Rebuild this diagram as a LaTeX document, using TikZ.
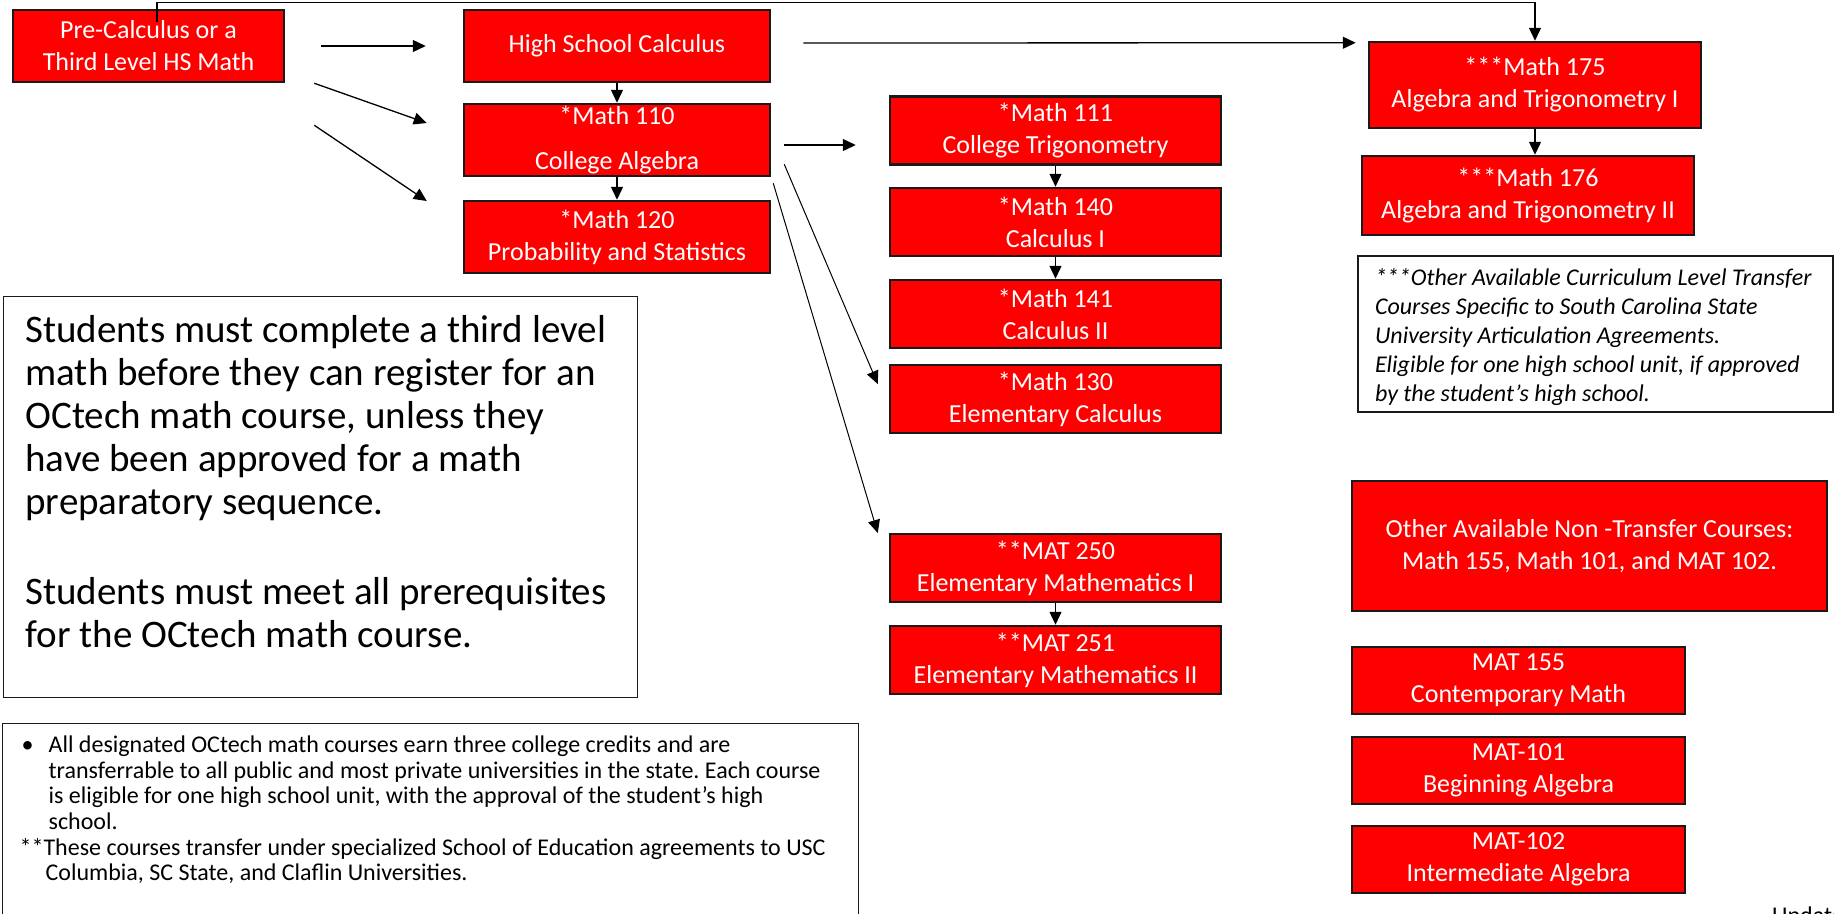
\documentclass[tikz,border=0pt]{standalone}
\usepackage{fontspec}
\setmainfont{Carlito}
\usetikzlibrary{arrows.meta,positioning}
\definecolor{boxred}{HTML}{FF0000}
\definecolor{boxline}{HTML}{1A1A1A}
\frenchspacing

\begin{document}
\begin{tikzpicture}[x=1pt,y=-1pt,
   course/.style={draw=boxline,line width=2.5pt,fill=boxred,text=white,inner sep=0pt,
     align=center,font=\fontsize{26}{32}\selectfont,minimum width=331pt,minimum height=68pt},
   note/.style={draw=boxline,fill=white,inner sep=0pt,anchor=north west},
   arr/.style={-{Triangle[length=13pt,width=12pt]},line width=1.3pt}]
  \useasboundingbox (0,0) rectangle (1834,913);
  \clip (0,0) rectangle (1834,913);

  % entry level and first column
  \node[course,minimum width=271pt,minimum height=72pt] (pre) at (148.5,46) {Pre-Calculus or a\\Third Level HS Math};
  \node[course,minimum width=306pt,minimum height=72pt] (hsc) at (617,46) {High School Calculus};
  \node[course,minimum width=306pt,minimum height=72pt,below=19.5pt of hsc] (m110) {*Math 110\\[13pt]College Algebra};
  \node[course,minimum width=306pt,minimum height=72pt,below=22.5pt of m110] (m120) {*Math 120\\Probability and Statistics};

  % second column
  \node[course] (m111) at (1055.5,130.5) {*Math 111\\College Trigonometry};
  \node[course,below=21pt of m111] (m140) {*Math 140\\Calculus I};
  \node[course,below=21.5pt of m140] (m141) {*Math 141\\Calculus II};
  \node[course,below=14.5pt of m141] (m130) {*Math 130\\Elementary Calculus};
  \node[course] (mat250) at (1055.5,568) {**MAT 250\\Elementary Mathematics I};
  \node[course,below=21.5pt of mat250] (mat251) {**MAT 251\\Elementary Mathematics II};

  % third column
  \node[course,minimum width=332pt,minimum height=86pt] (m175) at (1535,85) {***Math 175\\Algebra and Trigonometry I};
  \node[course,minimum width=332pt,minimum height=79pt] (m176) at (1528,195.5) {***Math 176\\Algebra and Trigonometry II};
  \node[note,line width=2pt] (xfer) at (1357,255) {\parbox[t][156pt][t]{475pt}{\leftskip=17pt
     \fontsize{24}{29}\selectfont\itshape\rule{0pt}{29pt}***Other Available Curriculum Level Transfer\\
     Courses Specific to South Carolina State\\
     University Articulation Agreements.\\
     Eligible for one high school unit, if approved\\
     by the student’s high school.}};
  \node[course,minimum width=475pt,minimum height=130pt] (other) at (1589.5,546) {Other Available Non -Transfer Courses:\\Math 155, Math 101, and MAT 102.};
  \node[course,minimum width=333pt,minimum height=67pt] (mat155) at (1518.5,680.5) {MAT 155\\Contemporary Math};
  \node[course,minimum width=333pt,minimum height=67pt,below=20.5pt of mat155] (mat101) {MAT-101\\Beginning Algebra};
  \node[course,minimum width=333pt,minimum height=67pt,below=19.5pt of mat101] (mat102) {MAT-102\\Intermediate Algebra};

  % text boxes on the left
  \node[note,line width=1pt] (rules) at (3,296) {\parbox[t][401pt][t]{634pt}{\leftskip=22pt
     \fontsize{39}{43}\selectfont\rule{0pt}{46pt}Students must complete a third level\\
     math before they can register for an\\
     OCtech math course, unless they\\
     have been approved for a math\\
     preparatory sequence.\\[47pt]
     Students must meet all prerequisites\\
     for the OCtech math course.}};
  \node[note,line width=1.3pt] (fine) at (2,723) {\parbox[t][230pt][t]{856pt}{\leftskip=17pt
     \fontsize{24}{25.6}\selectfont\rule{0pt}{29pt}\makebox[29pt][l]{\hspace{2pt}•}All designated OCtech math courses earn three college credits and are\\
     \hspace*{29pt}transferrable to all public and most private universities in the state. Each course\\
     \hspace*{29pt}is eligible for one high school unit, with the approval of the student’s high\\
     \hspace*{29pt}school.\\
     {}**These courses transfer under specialized School of Education agreements to USC\\
     \hspace*{26pt}Columbia, SC State, and Claflin Universities.}};
  \node[anchor=base west,inner sep=0pt,font=\fontsize{24}{29}\selectfont] (upd) at (1772,923) {Updated};

  % arrows
  \draw[arr] ([shift={(8.5pt,-13pt)}]pre.north) |- ([yshift=38.5pt]m175.north) -- (m175.north);
  \draw[arr] ([xshift=36pt]pre.east) -- ([xshift=-37pt]hsc.west);
  \draw[arr] ([xshift=29pt]pre.south east) -- ([shift={(-36pt,17pt)}]m110.west);
  \draw[arr] ([shift={(29pt,-42pt)}]pre.south east) -- ([shift={(-36pt,36pt)}]m120.west);
  \draw[arr] (hsc) -- (m110);
  \draw[arr] (m110) -- (m120);
  \draw[arr] ([shift={(32pt,3pt)}]hsc.east) -- ([shift={(-12pt,-2pt)}]m175.north west);
  \draw[arr] ([shift={(13pt,-5pt)}]m110.east) -- ([shift={(-33pt,-14.5pt)}]m111.west);
  \draw[arr,line width=1pt] ([shift={(13pt,13pt)}]m110.south east) -- ([shift={(-11pt,15pt)}]m130.west);
  \draw[arr,line width=1pt] ([shift={(2pt,-6pt)}]m110.south east) -- ([shift={(-11pt,35pt)}]mat250.west);
  \draw[arr] (m111) -- (m140);
  \draw[arr] (m140) -- (m141);
  \draw[arr] (mat250) -- (mat251);
  \draw[arr] (m175.south) -- (m175.south |- m176.north);
\end{tikzpicture}
\end{document}
